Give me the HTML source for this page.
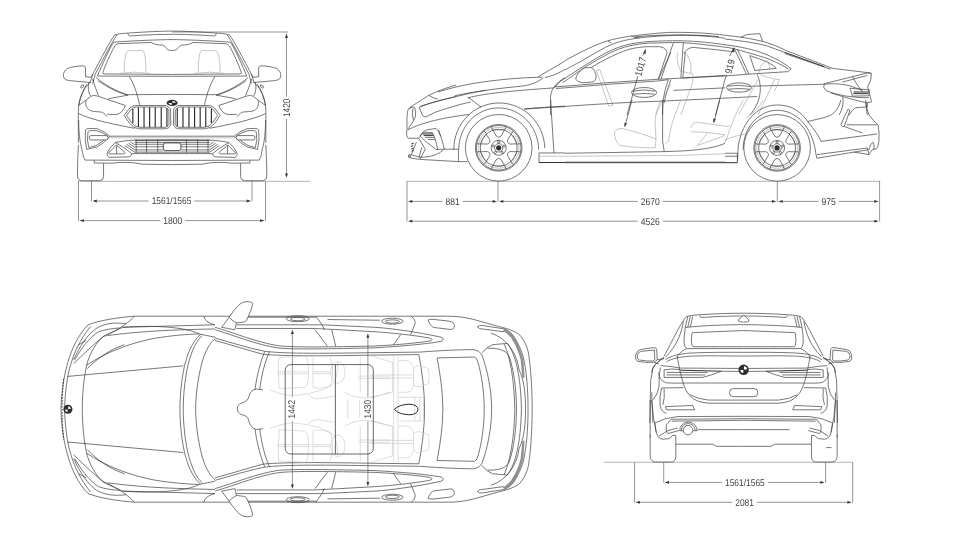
<!DOCTYPE html>
<html><head><meta charset="utf-8"><title>Dimensions</title>
<style>
html,body{margin:0;padding:0;background:#fff;}
body{width:967px;height:546px;overflow:hidden;font-family:"Liberation Sans",sans-serif;}
svg{display:block;}
.l{fill:none;stroke:#363636;stroke-width:.68;stroke-linecap:butt;stroke-linejoin:round;vector-effect:non-scaling-stroke;}
.f{fill:none;stroke:#8a8a8a;stroke-width:.5;stroke-linecap:butt;stroke-linejoin:round;vector-effect:non-scaling-stroke;}
.b{fill:none;stroke:#222;stroke-width:.95;stroke-linecap:butt;stroke-linejoin:round;vector-effect:non-scaling-stroke;}
.w{fill:#fff;stroke:#363636;stroke-width:.68;stroke-linejoin:round;vector-effect:non-scaling-stroke;}
.k{fill:#2a2a2a;stroke:none;}
.s{fill:none;stroke:#2a2a2a;stroke-width:1.15;vector-effect:non-scaling-stroke;}
.m{fill:none;stroke:#3a3a3a;stroke-width:.78;stroke-linejoin:round;vector-effect:non-scaling-stroke;}
.ff{fill:none;stroke:#c6c6c6;stroke-width:.6;stroke-linejoin:round;vector-effect:non-scaling-stroke;}
.g{fill:none;stroke:#777;stroke-width:.55;}
.d{fill:none;stroke:#777;stroke-width:.8;vector-effect:non-scaling-stroke;}
.a{fill:#333;stroke:none;}
text{font-family:"Liberation Sans",sans-serif;font-size:9.8px;fill:#3c3c3c;text-anchor:middle;text-rendering:geometricPrecision;}
</style></head><body>
<svg width="967" height="546" viewBox="0 0 967 546">
<g opacity=".99">
<g id="dims">
<path class="g" d="M78,181.3 H310.5"/>
<path class="d" d="M172,32 H288 M78.5,181 V221 M265.5,181 V221 M91.5,181 V201.2 M252,181 V201.2"/>
<path class="d" d="M94.5,201 H148.7 M194.3,201 H249"/>
<path class="a" d="M92.5,201 l4.3,-1.4 v2.8 z"/>
<path class="a" d="M251,201 l-4.3,-1.4 v2.8 z"/>
<text x="171.5" y="204" textLength="39.6" lengthAdjust="spacingAndGlyphs">1561/1565</text>
<path class="d" d="M81.5,220.6 H160.3 M185.3,220.6 H262.5"/>
<path class="a" d="M79.5,220.6 l4.3,-1.4 v2.8 z"/>
<path class="a" d="M264.5,220.6 l-4.3,-1.4 v2.8 z"/>
<text x="172.8" y="224" textLength="19" lengthAdjust="spacingAndGlyphs">1800</text>
<path class="d" d="M286.5,35.6 V96.7 M286.5,118.9 V175.8"/>
<path class="a" d="M286.5,33.6 l-1.45,4.4 h2.9 z"/>
<path class="a" d="M286.5,177.8 l-1.45,-4.4 h2.9 z"/>
<text transform="translate(289.9,107.8) rotate(-90)" x="0" y="0" textLength="18.6" lengthAdjust="spacingAndGlyphs">1420</text>
<path class="g" d="M407,181.3 H880"/>
<path class="d" d="M407,181 V221.5 M879.6,181 V221.5 M498,181 V201.7 M777.3,181 V201.7"/>
<path class="d" d="M410,201.4 H442.5 M462.7,201.4 H495"/>
<path class="a" d="M408,201.4 l4.3,-1.4 v2.8 z"/>
<path class="a" d="M497,201.4 l-4.3,-1.4 v2.8 z"/>
<text x="452.6" y="205" textLength="14.2" lengthAdjust="spacingAndGlyphs">881</text>
<path class="d" d="M501,201.4 H637.8 M662.8,201.4 H774.3"/>
<path class="a" d="M499,201.4 l4.3,-1.4 v2.8 z"/>
<path class="a" d="M776.3,201.4 l-4.3,-1.4 v2.8 z"/>
<text x="650.3" y="205" textLength="19" lengthAdjust="spacingAndGlyphs">2670</text>
<path class="d" d="M780.3,201.4 H818.5 M838.9,201.4 H876.6"/>
<path class="a" d="M778.3,201.4 l4.3,-1.4 v2.8 z"/>
<path class="a" d="M878.6,201.4 l-4.3,-1.4 v2.8 z"/>
<text x="828.7" y="205" textLength="14.4" lengthAdjust="spacingAndGlyphs">975</text>
<path class="d" d="M410,221.2 H637.8 M662.8,221.2 H876.6"/>
<path class="a" d="M408,221.2 l4.3,-1.4 v2.8 z"/>
<path class="a" d="M878.6,221.2 l-4.3,-1.4 v2.8 z"/>
<text x="650.3" y="225" textLength="19" lengthAdjust="spacingAndGlyphs">4526</text>
<path class="g" d="M604,462.3 H853"/>
<path class="d" d="M634.6,462.3 V502.6 M852.7,462.3 V502.6 M663.7,462.3 V482.7 M825.6,462.3 V482.7"/>
<path class="d" d="M666.7,482.4 H722 M767.8,482.4 H822.6"/>
<path class="a" d="M664.7,482.4 l4.3,-1.4 v2.8 z"/>
<path class="a" d="M824.6,482.4 l-4.3,-1.4 v2.8 z"/>
<text x="744.9" y="486" textLength="39.8" lengthAdjust="spacingAndGlyphs">1561/1565</text>
<path class="d" d="M637.6,502.3 H732.25 M756.95,502.3 H849.7"/>
<path class="a" d="M635.6,502.3 l4.3,-1.4 v2.8 z"/>
<path class="a" d="M851.7,502.3 l-4.3,-1.4 v2.8 z"/>
<text x="744.6" y="506" textLength="18.7" lengthAdjust="spacingAndGlyphs">2081</text>
<path class="d" d="M292.4,331.7 V397.15 M292.4,421.25 V486.9"/>
<path class="a" d="M292.4,329.7 l-1.45,4.4 h2.9 z"/>
<path class="a" d="M292.4,488.9 l-1.45,-4.4 h2.9 z"/>
<text transform="translate(295.2,409.2) rotate(-90)" x="0" y="0" textLength="18.5" lengthAdjust="spacingAndGlyphs">1442</text>
<path class="d" d="M367.9,335.3 V397.15 M367.9,421.25 V484.3"/>
<path class="a" d="M367.9,333.3 l-1.45,4.4 h2.9 z"/>
<path class="a" d="M367.9,486.3 l-1.45,-4.4 h2.9 z"/>
<text transform="translate(370.8,409.2) rotate(-90)" x="0" y="0" textLength="18.5" lengthAdjust="spacingAndGlyphs">1430</text>
</g>
<g id="front">
<g transform="translate(60,25) scale(0.124486,0.124533)">
<path class="l" d="M440,80 C470,70 520,66 560,64 C700,54 820,49 900,49"/>
<path class="l" d="M545,68 Q548,86 558,88 C700,78 820,75 900,75"/>
<path class="l" d="M440,80 C400,130 330,270 250,420"/>
<path class="l" d="M458,80 C420,130 350,270 280,400"/>
<path class="l" d="M900,117 C800,118 600,125 432,138 C400,180 340,320 300,410 L900,412"/>
<path class="l" d="M900,397 L360,393 Q338,392 345,380 C360,330 420,200 440,168 Q450,152 475,150 L730,140 C755,150 770,160 800,160 C835,160 842,170 852,185 C868,205 890,205 900,205"/>
<path class="f" d="M515,378 C515,300 525,220 545,207 L665,205 C685,220 690,300 690,378 M480,388 Q600,370 720,388"/>
<path class="l" d="M250,420 L205,415 L205,345 Q203,328 185,328 C150,328 90,335 60,350 C35,365 22,390 30,420 C35,440 60,445 90,448 L245,462"/>
<path class="l" d="M262,395 L242,465 M282,400 L262,470"/>
</g>
<g transform="translate(344.2,0) scale(-1,1)"><g transform="translate(60,25) scale(0.124486,0.124533)">
<path class="l" d="M440,80 C470,70 520,66 560,64 C700,54 820,49 900,49"/>
<path class="l" d="M545,68 Q548,86 558,88 C700,78 820,75 900,75"/>
<path class="l" d="M440,80 C400,130 330,270 250,420"/>
<path class="l" d="M458,80 C420,130 350,270 280,400"/>
<path class="l" d="M900,117 C800,118 600,125 432,138 C400,180 340,320 300,410 L900,412"/>
<path class="l" d="M900,397 L360,393 Q338,392 345,380 C360,330 420,200 440,168 Q450,152 475,150 L730,140 C755,150 770,160 800,160 C835,160 842,170 852,185 C868,205 890,205 900,205"/>
<path class="f" d="M515,378 C515,300 525,220 545,207 L665,205 C685,220 690,300 690,378 M480,388 Q600,370 720,388"/>
<path class="l" d="M250,420 L205,415 L205,345 Q203,328 185,328 C150,328 90,335 60,350 C35,365 22,390 30,420 C35,440 60,445 90,448 L245,462"/>
<path class="l" d="M262,395 L242,465 M282,400 L262,470"/>
</g>
</g>
<g transform="translate(60,75) scale(0.124486,0.124533)">
<path class="l" d="M555,10 C600,80 625,170 640,240"/>
<path class="l" d="M290,20 C360,80 450,130 540,158 L900,156"/>
<path class="l" d="M305,45 C380,100 470,142 548,163"/>
<path class="l" d="M262,30 C275,80 295,130 310,165"/>
<path class="l" d="M245,55 C200,100 165,150 150,245 C146,290 147,400 148,545"/>
<path class="l" d="M215,75 C185,120 162,180 150,245"/>
<path class="l" d="M165,100 Q168,76 190,80 Q196,95 176,106 Z"/>
<path class="l" d="M232,60 C222,100 228,140 245,168"/>
<path class="l" d="M150,245 L255,168 Q280,160 305,170 L525,245 Q520,270 490,300 Q470,318 440,318 L380,315"/>
<path class="l" d="M210,205 C200,240 215,270 240,285 C280,300 330,290 350,305 L380,335"/>
<path class="l" d="M390,190 L545,162"/>
<path class="l" d="M150,310 C250,360 450,400 600,428"/>
<path class="l" d="M515,325 L560,265 Q580,245 610,245 L855,245 L888,272 L890,400 Q880,430 850,432 L630,432 Q590,425 560,390 Z"/>
<path class="l" d="M535,325 L575,272 Q590,258 615,257 L845,257 L874,280 L876,395 Q866,418 845,420 L635,420 Q600,415 575,382 Z"/>
<path class="s" d="M585,272 V385 M630,260 V418 M675,258 V420 M720,258 V420 M765,258 V420 M813,258 V420 M859,266 V412"/>
</g>
<g transform="translate(344.2,0) scale(-1,1)"><g transform="translate(60,75) scale(0.124486,0.124533)">
<path class="l" d="M555,10 C600,80 625,170 640,240"/>
<path class="l" d="M290,20 C360,80 450,130 540,158 L900,156"/>
<path class="l" d="M305,45 C380,100 470,142 548,163"/>
<path class="l" d="M262,30 C275,80 295,130 310,165"/>
<path class="l" d="M245,55 C200,100 165,150 150,245 C146,290 147,400 148,545"/>
<path class="l" d="M215,75 C185,120 162,180 150,245"/>
<path class="l" d="M165,100 Q168,76 190,80 Q196,95 176,106 Z"/>
<path class="l" d="M232,60 C222,100 228,140 245,168"/>
<path class="l" d="M150,245 L255,168 Q280,160 305,170 L525,245 Q520,270 490,300 Q470,318 440,318 L380,315"/>
<path class="l" d="M210,205 C200,240 215,270 240,285 C280,300 330,290 350,305 L380,335"/>
<path class="l" d="M390,190 L545,162"/>
<path class="l" d="M150,310 C250,360 450,400 600,428"/>
<path class="l" d="M515,325 L560,265 Q580,245 610,245 L855,245 L888,272 L890,400 Q880,430 850,432 L630,432 Q590,425 560,390 Z"/>
<path class="l" d="M535,325 L575,272 Q590,258 615,257 L845,257 L874,280 L876,395 Q866,418 845,420 L635,420 Q600,415 575,382 Z"/>
<path class="s" d="M585,272 V385 M630,260 V418 M675,258 V420 M720,258 V420 M765,258 V420 M813,258 V420 M859,266 V412"/>
</g>
</g>
<g transform="translate(60,120) scale(0.124486,0.124533)">
<path class="l" d="M205,80 Q210,68 240,68 L300,70 Q360,90 400,130 Q350,190 300,215 L215,237 Q195,160 205,80"/>
<path class="l" d="M225,95 Q228,85 245,85 L290,85 Q350,100 385,130 Q340,180 290,205 L232,222 Q212,160 225,95"/>
<rect class="w" x="235" y="125" width="150" height="35" rx="14"/>
<path class="l" d="M400,130 L900,130"/>
<path class="f" d="M395,143 L900,143"/>
<path class="l" d="M445,180 Q520,165 600,160 L900,158"/>
<path class="l" d="M378,268 Q400,215 445,182 Q520,220 575,270 Q575,290 555,296 L395,300 Q375,290 378,268"/>
<path class="l" d="M390,265 L452,200 L525,262 Q520,272 505,272 L395,272 Z M455,205 V270"/>
<path class="m" d="M600,165 H900 M600,258 H900"/>
<path class="l" d="M600,180 H900 M600,195 H830 M600,215 H830 M600,240 H830 M575,270 H900"/>
<path class="l" d="M612,158 V262 M695,158 V262 M785,158 V262"/>
<path class="l" d="M520,205 L600,258 M535,195 L600,240 M550,185 L600,220 M565,175 L600,200"/>
<rect class="w" x="830" y="185" width="140" height="60" rx="16"/>
<path class="l" d="M150,0 C150,100 160,180 175,230 Q185,300 200,322 L900,325"/>
<path class="l" d="M275,325 V345 L420,347 C500,335 600,340 660,355 L900,358"/>
<path class="l" d="M148,200 C142,300 140,400 140,450 Q142,488 180,488 L320,488 Q350,485 350,455 L350,347"/>
</g>
<g transform="translate(344.2,0) scale(-1,1)"><g transform="translate(60,120) scale(0.124486,0.124533)">
<path class="l" d="M205,80 Q210,68 240,68 L300,70 Q360,90 400,130 Q350,190 300,215 L215,237 Q195,160 205,80"/>
<path class="l" d="M225,95 Q228,85 245,85 L290,85 Q350,100 385,130 Q340,180 290,205 L232,222 Q212,160 225,95"/>
<rect class="w" x="235" y="125" width="150" height="35" rx="14"/>
<path class="l" d="M400,130 L900,130"/>
<path class="f" d="M395,143 L900,143"/>
<path class="l" d="M445,180 Q520,165 600,160 L900,158"/>
<path class="l" d="M378,268 Q400,215 445,182 Q520,220 575,270 Q575,290 555,296 L395,300 Q375,290 378,268"/>
<path class="l" d="M390,265 L452,200 L525,262 Q520,272 505,272 L395,272 Z M455,205 V270"/>
<path class="m" d="M600,165 H900 M600,258 H900"/>
<path class="l" d="M600,180 H900 M600,195 H830 M600,215 H830 M600,240 H830 M575,270 H900"/>
<path class="l" d="M612,158 V262 M695,158 V262 M785,158 V262"/>
<path class="l" d="M520,205 L600,258 M535,195 L600,240 M550,185 L600,220 M565,175 L600,200"/>
<rect class="w" x="830" y="185" width="140" height="60" rx="16"/>
<path class="l" d="M150,0 C150,100 160,180 175,230 Q185,300 200,322 L900,325"/>
<path class="l" d="M275,325 V345 L420,347 C500,335 600,340 660,355 L900,358"/>
<path class="l" d="M148,200 C142,300 140,400 140,450 Q142,488 180,488 L320,488 Q350,485 350,455 L350,347"/>
</g>
</g>
<g transform="translate(172.1,102.9) scale(5.5,3.1)"><circle r="1" fill="#2b2b2b"/><path d="M.06,-.06 L.06,-.64 A.6,.6 0 0 1 .64,-.06 Z M-.06,.06 L-.06,.64 A.6,.6 0 0 1 -.64,.06 Z" fill="#fff"/></g>
</g>
<g id="side">
<g transform="translate(405,25) scale(0.16546,0.165442)">
<path class="l" d="M830,315 C700,318 550,330 420,352 C330,368 250,388 200,405"/>
<path class="l" d="M805,312 L967,218"/>
<path class="l" d="M845,318 C900,305 930,290 967,268"/>
<path class="l" d="M300,428 C450,395 600,380 700,370 C770,362 800,345 835,320"/>
<path class="l" d="M380,440 C500,410 650,398 900,380"/>
<path class="l" d="M967,318 C920,345 885,380 880,430 L880,544"/>
<path class="l" d="M720,508 C800,500 880,495 967,490"/>
<path class="l" d="M903,380 L937,342"/>
</g>
<g transform="translate(403,95) scale(0.0827301,0.082713)">
<path class="l" d="M50,425 C45,330 48,250 55,200 Q60,170 80,155 L130,120 L310,5 C400,-40 500,-80 640,-120"/>
<path class="l" d="M70,165 Q110,135 140,150 Q160,200 150,260 Q120,340 60,410"/>
<path class="l" d="M120,165 Q105,230 125,300"/>
<path class="l" d="M195,150 L235,245 Q250,270 285,262 L380,212 C500,170 650,120 820,85"/>
<path class="l" d="M195,150 C300,105 450,60 690,8 C800,-20 900,-40 1000,-55"/>
<path class="l" d="M210,135 C350,90 500,50 640,20"/>
<path class="l" d="M60,420 C200,350 400,285 800,235"/>
<path class="l" d="M310,5 Q360,35 420,50"/>
<path class="l" d="M780,25 Q880,90 945,150"/>
<path class="l" d="M205,495 Q230,440 290,420 L400,405 Q430,420 455,500"/>
</g>
<g transform="translate(403,130) scale(0.0827301,0.082713)">
<path class="l" d="M430,0 C460,80 480,150 500,232"/>
<path class="l" d="M355,30 C385,80 400,150 420,235"/>
<path class="l" d="M210,75 Q230,35 260,28 L355,30"/>
<path class="b" d="M240,48 H360 M250,68 H370"/>
<path class="l" d="M270,90 H380 M300,115 H390"/>
<path class="l" d="M210,75 L270,135 L400,235 L500,232 H670"/>
<path class="l" d="M45,0 L45,70 Q50,95 70,100 L190,100 L210,75"/>
<path class="l" d="M190,100 L270,235 L205,350 M160,150 L100,300 M225,210 L195,330"/>
<path class="b" d="M100,170 L130,160 M95,200 L125,190 M100,230 L130,220 M105,255 L130,248"/>
<path class="l" d="M65,310 Q80,295 100,300 L205,330 C350,330 430,290 490,240"/>
<path class="l" d="M65,310 Q70,335 100,340 L200,355 L670,382 V235 M670,382 H780"/>
<ellipse class="l" cx="78" cy="318" rx="12" ry="16"/>
</g>
<g transform="translate(405,100) scale(0.16546,0.165442)">
<path class="l" d="M295,300 C295,140 420,18 568,18 C720,18 840,140 845,290"/>
<path class="l" d="M325,300 C325,160 430,48 566,48 C700,48 805,160 808,300"/>
<path class="l" d="M810,320 H967 M810,320 V380"/>
<path class="f" d="M810,340 H967"/>
<path class="b" d="M810,378 H967"/>
<path class="l" d="M880,0 L900,320"/>
<path class="l" d="M720,55 C800,48 880,45 967,40"/>
</g>
<g transform="translate(565,25) scale(0.16546,0.165442)">
<path class="l" d="M0,215 C100,160 180,120 260,95 C330,75 420,60 620,45 C760,42 880,50 967,62"/>
<path class="l" d="M0,272 C60,238 90,224 120,206 C180,170 230,140 286,116 C330,98 380,88 421,82 C500,70 600,64 695,62 C800,62 900,70 967,80"/>
<path class="l" d="M400,66 Q420,80 450,78 M260,95 L280,110"/>
<path class="m" d="M420,72 C560,58 760,55 930,70"/>
<path class="l" d="M-30,342 L0,322 C40,296 80,270 120,244 C170,212 220,182 271,157 C310,138 350,125 391,116 C430,108 460,104 496,101 C560,96 640,95 695,95 C800,98 900,108 967,120"/>
<path class="l" d="M-15,349 C30,320 80,282 120,255 C170,225 220,195 271,169 C310,150 350,135 391,126 C430,118 460,113 496,110 L650,106 L700,106 C800,112 900,125 996,138"/>
<path class="l" d="M158,257 C200,232 235,212 271,195 C310,176 350,158 391,146 C430,137 460,133 496,131 L572,131 Q600,135 609,150 Q617,160 617,169 L564,327"/>
<path class="w" d="M64,327 Q70,300 83,289 Q100,265 120,259 L158,257 Q175,262 180,282 Q190,300 188,319 Q185,338 173,342 Q140,350 105,349 Q75,345 64,327 Z"/>
<path class="l" d="M655,108 L580,328 M640,165 L565,328"/>
<path class="l" d="M715,108 L700,320 M727,165 L712,320"/>
<path class="l" d="M721,175 Q725,145 770,135 L921,150 L1026,163"/>
<path class="l" d="M712,320 L967,305"/>
<path class="l" d="M-62,374 L0,370 L240,350 L565,328 L967,308"/>
<path class="l" d="M-55,384 L0,380 L240,360 L565,338 L625,330"/>
<path class="l" d="M625,330 C600,400 590,450 590,544"/>
<path class="l" d="M640,330 C615,400 605,440 600,470"/>
<ellipse class="l" cx="478" cy="408" rx="76" ry="30"/>
<path class="l" d="M410,400 Q478,385 545,400 M415,418 Q478,410 540,418"/>
<path class="l" d="M0,492 C200,478 400,465 590,460 L967,442"/>
<path class="l" d="M655,395 L967,380"/>
<path class="f" d="M190,275 L210,270 L290,485 L265,490 Z"/>
<path class="f" d="M680,165 Q670,220 700,280 L770,295 Q780,330 760,380 L700,544"/>
<path class="f" d="M735,175 Q770,230 760,290"/>
<path class="f" d="M640,360 Q600,420 550,544"/>
<path class="l" d="M470,185 L487,147 M440,310 L375,544"/>
<path class="l" d="M967,330 L910,544"/>
</g>
<g transform="translate(565,100) scale(0.16546,0.165442)">
<path class="l" d="M0,322 L600,312 C750,308 880,300 967,262"/>
<path class="f" d="M0,340 L700,335 L967,325"/>
<path class="f" d="M0,372 H967"/>
<path class="b" d="M0,379 H967"/>
<path class="l" d="M590,0 L590,250 L600,312"/>
<path class="f" d="M300,190 Q310,172 350,172 Q460,200 550,235 L545,290 Q430,290 330,275 Q295,240 300,190 Z"/>
<path class="f" d="M580,0 Q540,80 545,150 L550,235 M700,0 Q650,120 640,170 L625,250 L610,262"/>
<path class="f" d="M760,170 Q770,135 800,135 L967,158 M760,192 L860,196 L967,210 M860,200 L800,275 L967,215"/>
<path class="l" d="M405,0 L362,160"/>
<path class="l" d="M935,0 L900,135"/>
</g>
<g transform="translate(725,25) scale(0.16546,0.165442)">
<path class="l" d="M0,62 C80,70 160,82 230,100 C300,120 340,140 370,155 L650,262 L880,290"/>
<path class="l" d="M95,75 L130,58 L210,52 L228,98"/>
<path class="l" d="M0,85 C100,95 200,112 250,125 L360,165"/>
<path class="b" d="M360,165 L600,252"/>
<path class="l" d="M360,172 L640,268"/>
<path class="l" d="M0,120 C80,128 150,145 200,160 C260,180 340,215 400,265 L380,282 L130,298 L0,308"/>
<path class="l" d="M0,442 L195,432"/>
<path class="l" d="M29,138 C120,160 200,185 255,202 C310,225 350,245 383,266"/>
<path class="l" d="M150,185 L180,275 L310,262 Q280,225 150,185 Z"/>
<path class="l" d="M55,140 L130,298 M75,148 L145,297"/>
<ellipse class="l" cx="85" cy="378" rx="76" ry="28"/>
<path class="l" d="M15,370 Q85,358 155,372 M20,388 Q85,380 150,388"/>
<path class="l" d="M160,370 L600,358"/>
<path class="l" d="M600,355 L860,290 L885,292 Q888,330 862,375 L880,440 L885,465 L860,470"/>
<path class="l" d="M710,345 L860,305"/>
<path class="l" d="M600,355 Q588,378 612,398 Q720,440 870,440"/>
<path class="l" d="M600,358 C680,350 740,360 790,380 L830,395"/>
<path class="l" d="M755,382 L770,430 L870,428 L872,392 Z"/>
<path class="b" d="M775,415 H865 M778,405 H868"/>
<path class="l" d="M770,310 C790,350 810,380 830,400"/>
<path class="l" d="M640,410 C700,430 800,460 860,470"/>
<path class="l" d="M195,300 C230,380 215,470 150,544"/>
<path class="f" d="M215,300 Q290,330 330,330 L300,400 M205,290 Q210,240 250,215 Q270,230 270,270"/>
<path class="f" d="M300,330 L200,544 M200,330 L80,544"/>
<path class="l" d="M690,544 Q720,490 712,435"/>
<path class="l" d="M750,544 Q770,510 790,500 L860,495 L862,470"/>
<path class="l" d="M850,470 L860,544"/>
<path class="l" d="M28,188 L55,137 M0,330 L10,300"/>
</g>
<g transform="translate(725,100) scale(0.16546,0.165442)">
<path class="l" d="M75,370 C80,330 75,280 88,240 C120,110 210,30 315,30 C400,30 460,70 500,130 C540,180 570,220 580,250"/>
<path class="l" d="M110,300 C110,160 210,62 315,62 C430,62 530,160 550,330 L555,352"/>
<path class="l" d="M500,130 C560,115 620,105 650,85 Q690,50 700,0"/>
<path class="l" d="M850,0 Q855,60 870,90 Q900,130 925,150 Q935,200 930,250 Q925,290 915,295 L890,300 L870,330 L780,315"/>
<path class="l" d="M580,250 L920,205"/>
<path class="l" d="M555,330 L860,290 M555,352 L870,300"/>
<path class="l" d="M870,300 Q880,260 895,255 M860,290 L870,330 M895,255 Q905,270 900,298"/>
<path class="l" d="M745,55 Q720,100 700,150 Q710,165 720,160 Q740,110 755,62 Z"/>
<path class="l" d="M720,160 L830,200 M735,150 L920,150"/>
<path class="l" d="M0,322 L75,322 M0,340 H75 M75,322 V378"/>
<path class="b" d="M0,379 H75"/>
<path class="f" d="M0,160 L30,155 M0,240 L60,220 L150,200 M150,200 V225"/>
<path class="f" d="M110,0 Q60,80 0,260 M230,0 Q200,60 130,110"/>
</g>
<g transform="translate(498.7,147.8)">
<circle class="w" r="33.3"/>
<circle class="l" r="23.3"/><circle class="l" r="22.3"/>
<circle class="l" r="18.4"/><circle class="f" r="20.4"/>
<circle class="w" r="7.5"/><circle class="l" r="4.2"/><circle class="k" r="2.6"/>
<path class="w" transform="rotate(0)" d="M-5.6,-17.6 Q0,-18.8 5.6,-17.6 L2.5,-11.8 Q0,-9.2 -2.5,-11.8 Z"/>
<path class="l" transform="rotate(0)" d="M-7.2,-21 L-6,-17.4 M7.2,-21 L6,-17.4"/>
<path class="w" transform="rotate(60)" d="M-5.6,-17.6 Q0,-18.8 5.6,-17.6 L2.5,-11.8 Q0,-9.2 -2.5,-11.8 Z"/>
<path class="l" transform="rotate(60)" d="M-7.2,-21 L-6,-17.4 M7.2,-21 L6,-17.4"/>
<path class="w" transform="rotate(120)" d="M-5.6,-17.6 Q0,-18.8 5.6,-17.6 L2.5,-11.8 Q0,-9.2 -2.5,-11.8 Z"/>
<path class="l" transform="rotate(120)" d="M-7.2,-21 L-6,-17.4 M7.2,-21 L6,-17.4"/>
<path class="w" transform="rotate(180)" d="M-5.6,-17.6 Q0,-18.8 5.6,-17.6 L2.5,-11.8 Q0,-9.2 -2.5,-11.8 Z"/>
<path class="l" transform="rotate(180)" d="M-7.2,-21 L-6,-17.4 M7.2,-21 L6,-17.4"/>
<path class="w" transform="rotate(240)" d="M-5.6,-17.6 Q0,-18.8 5.6,-17.6 L2.5,-11.8 Q0,-9.2 -2.5,-11.8 Z"/>
<path class="l" transform="rotate(240)" d="M-7.2,-21 L-6,-17.4 M7.2,-21 L6,-17.4"/>
<path class="w" transform="rotate(300)" d="M-5.6,-17.6 Q0,-18.8 5.6,-17.6 L2.5,-11.8 Q0,-9.2 -2.5,-11.8 Z"/>
<path class="l" transform="rotate(300)" d="M-7.2,-21 L-6,-17.4 M7.2,-21 L6,-17.4"/>
<circle class="l" transform="rotate(0)" cx="0" cy="-5.7" r="1.1"/>
<circle class="l" transform="rotate(72)" cx="0" cy="-5.7" r="1.1"/>
<circle class="l" transform="rotate(144)" cx="0" cy="-5.7" r="1.1"/>
<circle class="l" transform="rotate(216)" cx="0" cy="-5.7" r="1.1"/>
<circle class="l" transform="rotate(288)" cx="0" cy="-5.7" r="1.1"/>
</g>
<g transform="translate(777.1,147.9)">
<circle class="w" r="33.3"/>
<circle class="l" r="23.3"/><circle class="l" r="22.3"/>
<circle class="l" r="18.4"/><circle class="f" r="20.4"/>
<circle class="w" r="7.5"/><circle class="l" r="4.2"/><circle class="k" r="2.6"/>
<path class="w" transform="rotate(0)" d="M-5.6,-17.6 Q0,-18.8 5.6,-17.6 L2.5,-11.8 Q0,-9.2 -2.5,-11.8 Z"/>
<path class="l" transform="rotate(0)" d="M-7.2,-21 L-6,-17.4 M7.2,-21 L6,-17.4"/>
<path class="w" transform="rotate(60)" d="M-5.6,-17.6 Q0,-18.8 5.6,-17.6 L2.5,-11.8 Q0,-9.2 -2.5,-11.8 Z"/>
<path class="l" transform="rotate(60)" d="M-7.2,-21 L-6,-17.4 M7.2,-21 L6,-17.4"/>
<path class="w" transform="rotate(120)" d="M-5.6,-17.6 Q0,-18.8 5.6,-17.6 L2.5,-11.8 Q0,-9.2 -2.5,-11.8 Z"/>
<path class="l" transform="rotate(120)" d="M-7.2,-21 L-6,-17.4 M7.2,-21 L6,-17.4"/>
<path class="w" transform="rotate(180)" d="M-5.6,-17.6 Q0,-18.8 5.6,-17.6 L2.5,-11.8 Q0,-9.2 -2.5,-11.8 Z"/>
<path class="l" transform="rotate(180)" d="M-7.2,-21 L-6,-17.4 M7.2,-21 L6,-17.4"/>
<path class="w" transform="rotate(240)" d="M-5.6,-17.6 Q0,-18.8 5.6,-17.6 L2.5,-11.8 Q0,-9.2 -2.5,-11.8 Z"/>
<path class="l" transform="rotate(240)" d="M-7.2,-21 L-6,-17.4 M7.2,-21 L6,-17.4"/>
<path class="w" transform="rotate(300)" d="M-5.6,-17.6 Q0,-18.8 5.6,-17.6 L2.5,-11.8 Q0,-9.2 -2.5,-11.8 Z"/>
<path class="l" transform="rotate(300)" d="M-7.2,-21 L-6,-17.4 M7.2,-21 L6,-17.4"/>
<circle class="l" transform="rotate(0)" cx="0" cy="-5.7" r="1.1"/>
<circle class="l" transform="rotate(72)" cx="0" cy="-5.7" r="1.1"/>
<circle class="l" transform="rotate(144)" cx="0" cy="-5.7" r="1.1"/>
<circle class="l" transform="rotate(216)" cx="0" cy="-5.7" r="1.1"/>
<circle class="l" transform="rotate(288)" cx="0" cy="-5.7" r="1.1"/>
</g>
<text transform="translate(640.6,66.6) rotate(-75)" x="0" y="3.3" textLength="19" lengthAdjust="spacingAndGlyphs">1017</text>
<text transform="translate(730,66.5) rotate(-75)" x="0" y="3.3" textLength="14.3" lengthAdjust="spacingAndGlyphs">919</text>
<path class="a" transform="translate(645.579,49.32) rotate(105)" d="M0,0 l4.4,-1.35 v2.7 z"/>
<path class="a" transform="translate(624.566,127.298) rotate(-75)" d="M0,0 l4.4,-1.35 v2.7 z"/>
<path class="a" transform="translate(734.1,47.3347) rotate(105)" d="M0,0 l4.4,-1.35 v2.7 z"/>
<path class="a" transform="translate(713.418,123.162) rotate(-75)" d="M0,0 l4.4,-1.35 v2.7 z"/>
</g>
<g id="top">
<g transform="translate(55,300) scale(0.16546,0.165442)">
<path class="l" d="M36,660 C38,560 55,450 80,370 C100,300 140,210 200,150 C260,125 380,105 480,98 L967,98"/>
<path class="l" d="M58,660 C60,560 75,450 95,390 C115,320 150,240 215,160"/>
<path class="l" d="M165,660 C165,560 175,470 190,400 C205,330 250,250 300,215 C340,195 380,178 410,165 L967,150"/>
<path class="l" d="M75,462 L775,398"/>
<path class="l" d="M190,395 C300,320 450,260 600,232 C700,215 800,207 870,205"/>
<path class="l" d="M195,415 C260,350 330,300 420,270"/>
<path class="l" d="M480,98 C440,140 400,170 300,220"/>
<path class="l" d="M113,361 C150,280 200,200 260,165 C320,135 380,138 429,143"/>
<path class="l" d="M120,361 C160,290 210,225 263,192 C300,178 350,172 391,169"/>
<path class="l" d="M300,215 C260,245 200,300 113,384"/>
<path class="l" d="M143,271 L188,245"/>
<path class="l" d="M755,660 C755,560 770,440 790,370 C810,300 840,240 880,208"/>
<path class="l" d="M775,660 C775,560 790,440 810,370 C830,300 855,245 890,215"/>
<path class="l" d="M850,660 C850,560 870,430 900,340 C920,290 940,255 967,235"/>
<path class="l" d="M410,165 C600,150 800,165 870,205 L967,225"/>
<path class="l" d="M320,215 C500,190 700,180 967,175"/>
<path class="l" d="M900,98 Q905,135 967,150"/>
</g>
<g transform="translate(0,818.4) scale(1,-1)"><g transform="translate(55,300) scale(0.16546,0.165442)">
<path class="l" d="M36,660 C38,560 55,450 80,370 C100,300 140,210 200,150 C260,125 380,105 480,98 L967,98"/>
<path class="l" d="M58,660 C60,560 75,450 95,390 C115,320 150,240 215,160"/>
<path class="l" d="M165,660 C165,560 175,470 190,400 C205,330 250,250 300,215 C340,195 380,178 410,165 L967,150"/>
<path class="l" d="M75,462 L775,398"/>
<path class="l" d="M190,395 C300,320 450,260 600,232 C700,215 800,207 870,205"/>
<path class="l" d="M195,415 C260,350 330,300 420,270"/>
<path class="l" d="M480,98 C440,140 400,170 300,220"/>
<path class="l" d="M113,361 C150,280 200,200 260,165 C320,135 380,138 429,143"/>
<path class="l" d="M120,361 C160,290 210,225 263,192 C300,178 350,172 391,169"/>
<path class="l" d="M300,215 C260,245 200,300 113,384"/>
<path class="l" d="M143,271 L188,245"/>
<path class="l" d="M755,660 C755,560 770,440 790,370 C810,300 840,240 880,208"/>
<path class="l" d="M775,660 C775,560 790,440 810,370 C830,300 855,245 890,215"/>
<path class="l" d="M850,660 C850,560 870,430 900,340 C920,290 940,255 967,235"/>
<path class="l" d="M410,165 C600,150 800,165 870,205 L967,225"/>
<path class="l" d="M320,215 C500,190 700,180 967,175"/>
<path class="l" d="M900,98 Q905,135 967,150"/>
</g>
</g>
<g transform="translate(215,300) scale(0.16546,0.165442)">
<path class="l" d="M0,98 H967 M190,104 H610"/>
<path class="w" d="M40,165 L85,105 Q140,20 175,12 Q215,5 228,20 Q225,50 190,125 Q185,135 130,138 L120,180 Z"/>
<path class="l" d="M85,105 Q110,130 130,138"/>
<path class="l" d="M130,150 H650 L967,165 M130,172 H600 L720,178 L967,192"/>
<path class="l" d="M0,165 C120,200 250,255 380,276 C480,288 700,284 967,278"/>
<path class="l" d="M0,180 C120,215 250,270 380,290 C480,300 700,295 967,289"/>
<path class="l" d="M0,230 C100,258 200,290 300,310 C420,326 700,323 967,318"/>
<path class="l" d="M0,245 C100,272 200,304 290,328 C420,341 700,338 967,333"/>
<path class="l" d="M330,310 C290,400 265,520 262,660"/>
<path class="l" d="M300,312 C265,400 245,500 240,560"/>
<ellipse class="l" cx="500" cy="113" rx="70" ry="18"/><ellipse class="l" cx="500" cy="115" rx="45" ry="10"/>
<path class="l" d="M610,98 L650,155 L660,180 M605,180 L680,280 M705,180 L730,280"/>
<path class="l" d="M680,118 L967,122"/>
</g>
<g transform="translate(0,818.4) scale(1,-1)"><g transform="translate(215,300) scale(0.16546,0.165442)">
<path class="l" d="M0,98 H967 M190,104 H610"/>
<path class="w" d="M40,165 L85,105 Q140,20 175,12 Q215,5 228,20 Q225,50 190,125 Q185,135 130,138 L120,180 Z"/>
<path class="l" d="M85,105 Q110,130 130,138"/>
<path class="l" d="M130,150 H650 L967,165 M130,172 H600 L720,178 L967,192"/>
<path class="l" d="M0,165 C120,200 250,255 380,276 C480,288 700,284 967,278"/>
<path class="l" d="M0,180 C120,215 250,270 380,290 C480,300 700,295 967,289"/>
<path class="l" d="M0,230 C100,258 200,290 300,310 C420,326 700,323 967,318"/>
<path class="l" d="M0,245 C100,272 200,304 290,328 C420,341 700,338 967,333"/>
<path class="l" d="M330,310 C290,400 265,520 262,660"/>
<path class="l" d="M300,312 C265,400 245,500 240,560"/>
<ellipse class="l" cx="500" cy="113" rx="70" ry="18"/><ellipse class="l" cx="500" cy="115" rx="45" ry="10"/>
<path class="l" d="M610,98 L650,155 L660,180 M605,180 L680,280 M705,180 L730,280"/>
<path class="l" d="M680,118 L967,122"/>
</g>
</g>
<g transform="translate(375,300) scale(0.16546,0.165442)">
<path class="l" d="M0,98 H440 C520,98 580,112 633,128 L754,162 C800,172 850,190 874,211 C895,235 905,255 912,271 C925,300 930,330 931,346 C940,400 950,540 950,660"/>
<path class="l" d="M784,175 C830,195 870,260 895,340 C915,420 925,540 925,660"/>
<path class="l" d="M618,162 Q630,152 648,154 L784,175 L776,192 L633,173 Z"/>
<path d="M784,173 C810,185 825,200 836,211 C855,235 865,260 870,279 C885,320 893,345 897,361 L904,470 L891,470 L880,361 C872,330 862,305 854,286 C842,260 832,245 823,230 C807,210 790,198 776,188 Z" fill="#8f8f8f"/>
<path class="l" d="M780,265 C810,330 840,450 845,660"/>
<path class="l" d="M800,262 C850,330 880,450 885,660"/>
<path class="l" d="M700,200 C800,230 860,330 870,420 C900,480 910,560 910,660"/>
<ellipse class="l" cx="105" cy="128" rx="65" ry="18"/><ellipse class="l" cx="105" cy="130" rx="42" ry="10"/>
<path class="l" d="M320,122 Q330,115 350,117 L450,128 Q480,135 480,155 Q478,180 455,178 L355,166 Q340,165 320,122Z"/>
<path class="l" d="M0,165 C100,172 250,192 400,225 Q425,235 400,250 C300,268 150,280 0,289"/>
<path class="l" d="M0,192 C100,198 250,215 330,230 Q360,240 330,248 C250,260 150,270 0,278"/>
<path class="l" d="M0,122 L30,122"/>
<path class="l" d="M220,100 Q250,120 240,150 L215,210 M155,210 L110,272"/>
<path class="l" d="M375,350 L600,345 Q615,350 620,370 C645,450 660,560 660,660"/>
<path class="l" d="M375,350 C395,450 410,560 410,660"/>
<path class="l" d="M265,330 C285,430 300,560 300,660"/>
<path class="l" d="M0,333 L265,330"/>
<path class="l" d="M0,318 L270,315 C400,305 520,300 600,300 Q630,305 645,330 C680,420 705,550 705,660"/>
<path class="l" d="M645,320 Q680,280 710,270 L800,262"/>
<path class="l" d="M680,292 C740,290 790,300 810,340 C840,420 855,550 855,660"/>
</g>
<g transform="translate(0,818.4) scale(1,-1)"><g transform="translate(375,300) scale(0.16546,0.165442)">
<path class="l" d="M0,98 H440 C520,98 580,112 633,128 L754,162 C800,172 850,190 874,211 C895,235 905,255 912,271 C925,300 930,330 931,346 C940,400 950,540 950,660"/>
<path class="l" d="M784,175 C830,195 870,260 895,340 C915,420 925,540 925,660"/>
<path class="l" d="M618,162 Q630,152 648,154 L784,175 L776,192 L633,173 Z"/>
<path d="M784,173 C810,185 825,200 836,211 C855,235 865,260 870,279 C885,320 893,345 897,361 L904,470 L891,470 L880,361 C872,330 862,305 854,286 C842,260 832,245 823,230 C807,210 790,198 776,188 Z" fill="#8f8f8f"/>
<path class="l" d="M780,265 C810,330 840,450 845,660"/>
<path class="l" d="M800,262 C850,330 880,450 885,660"/>
<path class="l" d="M700,200 C800,230 860,330 870,420 C900,480 910,560 910,660"/>
<ellipse class="l" cx="105" cy="128" rx="65" ry="18"/><ellipse class="l" cx="105" cy="130" rx="42" ry="10"/>
<path class="l" d="M320,122 Q330,115 350,117 L450,128 Q480,135 480,155 Q478,180 455,178 L355,166 Q340,165 320,122Z"/>
<path class="l" d="M0,165 C100,172 250,192 400,225 Q425,235 400,250 C300,268 150,280 0,289"/>
<path class="l" d="M0,192 C100,198 250,215 330,230 Q360,240 330,248 C250,260 150,270 0,278"/>
<path class="l" d="M0,122 L30,122"/>
<path class="l" d="M220,100 Q250,120 240,150 L215,210 M155,210 L110,272"/>
<path class="l" d="M375,350 L600,345 Q615,350 620,370 C645,450 660,560 660,660"/>
<path class="l" d="M375,350 C395,450 410,560 410,660"/>
<path class="l" d="M265,330 C285,430 300,560 300,660"/>
<path class="l" d="M0,333 L265,330"/>
<path class="l" d="M0,318 L270,315 C400,305 520,300 600,300 Q630,305 645,330 C680,420 705,550 705,660"/>
<path class="l" d="M645,320 Q680,280 710,270 L800,262"/>
<path class="l" d="M680,292 C740,290 790,300 810,340 C840,420 855,550 855,660"/>
</g>
</g>
<g transform="translate(215,365) scale(0.16546,0.165442)">
<path class="w" d="M290,150 L250,145 Q215,150 205,190 Q200,220 160,230 Q135,240 135,265 Q135,290 160,300 Q200,305 205,340 Q215,380 250,390 L290,385"/>
</g>
<g transform="translate(270,350) scale(0.124486,0.124533)">
<path class="ff" d="M70,60 Q60,180 75,310 L280,300 Q310,290 310,180 Q305,70 290,50 Z M60,175 H315 M60,192 H315"/>
<path class="ff" d="M345,60 V300 Q400,320 480,290 Q510,250 500,120 Q490,80 480,60 M345,175 H490 M345,190 H490"/>
<path class="ff" d="M0,320 Q150,390 300,350 Q340,400 400,390 L520,370 M310,350 Q420,330 500,280 Q540,250 545,100"/>
<ellipse class="ff" cx="545" cy="180" rx="58" ry="88"/>
<path class="ff" d="M725,60 V340 M710,210 H964 M710,228 H964 M600,340 Q700,400 830,380 L964,340 M625,400 V476 M720,400 V476"/>
</g>
<g transform="translate(0,818.4) scale(1,-1)"><g transform="translate(270,350) scale(0.124486,0.124533)">
<path class="ff" d="M70,60 Q60,180 75,310 L280,300 Q310,290 310,180 Q305,70 290,50 Z M60,175 H315 M60,192 H315"/>
<path class="ff" d="M345,60 V300 Q400,320 480,290 Q510,250 500,120 Q490,80 480,60 M345,175 H490 M345,190 H490"/>
<path class="ff" d="M0,320 Q150,390 300,350 Q340,400 400,390 L520,370 M310,350 Q420,330 500,280 Q540,250 545,100"/>
<ellipse class="ff" cx="545" cy="180" rx="58" ry="88"/>
<path class="ff" d="M725,60 V340 M710,210 H964 M710,228 H964 M600,340 Q700,400 830,380 L964,340 M625,400 V476 M720,400 V476"/>
</g>
</g>
<g transform="translate(370,350) scale(0.124486,0.124533)">
<path class="ff" d="M0,45 L180,100 V340 L0,380 M190,50 V476 M225,50 V476"/>
<path class="ff" d="M230,85 H300 Q345,100 350,150 V280 Q345,330 300,340 H230"/>
<path class="ff" d="M350,150 Q360,125 400,125 L470,150 Q480,200 470,270 L400,295 Q360,295 350,280"/>
<path class="ff" d="M0,200 H350 M0,225 H350 M360,380 V476 M400,380 V476 M430,380 V476 M230,380 H430"/>
</g>
<g transform="translate(0,818.4) scale(1,-1)"><g transform="translate(370,350) scale(0.124486,0.124533)">
<path class="ff" d="M0,45 L180,100 V340 L0,380 M190,50 V476 M225,50 V476"/>
<path class="ff" d="M230,85 H300 Q345,100 350,150 V280 Q345,330 300,340 H230"/>
<path class="ff" d="M350,150 Q360,125 400,125 L470,150 Q480,200 470,270 L400,295 Q360,295 350,280"/>
<path class="ff" d="M0,200 H350 M0,225 H350 M360,380 V476 M400,380 V476 M430,380 V476 M230,380 H430"/>
</g>
</g>
<rect class="m" x="285.2" y="364.6" width="88.1" height="89.4" rx="5.5"/><path class="m" d="M335.4,364.6 V454"/>
<path class="b" style="stroke-dasharray:1.6 1.4" d="M63.6,379 Q60.6,409.2 63.6,439.5"/>
<g transform="translate(67.9,409.2) scale(4.5,4.5)"><circle r="1" fill="#2b2b2b"/><path d="M.06,-.06 L.06,-.64 A.6,.6 0 0 1 .64,-.06 Z M-.06,.06 L-.06,.64 A.6,.6 0 0 1 -.64,.06 Z" fill="#fff"/></g>
<path class="b" d="M394.3,409.4 Q399,404.4 410,404.2 Q417.9,405 417.9,409.4 Q417.9,414 410,414.8 Q399,414.6 394.3,409.4 Z"/>
</g>
<g id="rear">
<g transform="translate(628,305) scale(0.124486,0.124533)">
<path class="l" d="M470,92 Q520,80 580,78 C700,70 820,66 929,66"/>
<path class="l" d="M575,85 Q580,100 595,100 C700,92 820,88 929,88"/>
<path class="w" d="M929,82 L890,115 Q878,132 900,135 L929,137"/>
<path class="l" d="M470,92 C430,130 350,300 290,410"/>
<path class="l" d="M445,130 C430,220 400,320 300,420"/>
<path class="l" d="M480,92 L460,180 M500,92 L480,180 M520,92 L500,178"/>
<path class="l" d="M929,158 C800,158 600,165 460,180 Q450,250 450,300 Q455,340 470,350 L929,350"/>
<path class="l" d="M929,205 L520,222 Q510,225 513,232 Q505,280 513,322 Q518,335 530,335 L929,335"/>
<path class="l" d="M470,350 C430,370 400,400 395,420"/>
<path class="l" d="M300,440 C350,405 420,392 500,386 C650,378 800,380 929,380"/>
<path class="l" d="M310,455 C360,425 440,415 520,410 C650,405 800,410 929,410"/>
<path class="l" d="M235,440 L230,355 Q225,340 205,342 L100,358 Q70,365 62,400 Q55,440 75,452 Q140,465 210,460 Z"/>
<path class="l" d="M215,440 L212,362 L105,372 Q80,378 75,405 Q72,435 90,442 Q150,452 200,450 Z"/>
<path class="l" d="M235,440 L290,430 M210,460 L250,475"/>
<path class="l" d="M190,544 Q195,500 215,480 L290,420"/>
</g>
<g transform="translate(1487.3,0) scale(-1,1)"><g transform="translate(628,305) scale(0.124486,0.124533)">
<path class="l" d="M470,92 Q520,80 580,78 C700,70 820,66 929,66"/>
<path class="l" d="M575,85 Q580,100 595,100 C700,92 820,88 929,88"/>
<path class="w" d="M929,82 L890,115 Q878,132 900,135 L929,137"/>
<path class="l" d="M470,92 C430,130 350,300 290,410"/>
<path class="l" d="M445,130 C430,220 400,320 300,420"/>
<path class="l" d="M480,92 L460,180 M500,92 L480,180 M520,92 L500,178"/>
<path class="l" d="M929,158 C800,158 600,165 460,180 Q450,250 450,300 Q455,340 470,350 L929,350"/>
<path class="l" d="M929,205 L520,222 Q510,225 513,232 Q505,280 513,322 Q518,335 530,335 L929,335"/>
<path class="l" d="M470,350 C430,370 400,400 395,420"/>
<path class="l" d="M300,440 C350,405 420,392 500,386 C650,378 800,380 929,380"/>
<path class="l" d="M310,455 C360,425 440,415 520,410 C650,405 800,410 929,410"/>
<path class="l" d="M235,440 L230,355 Q225,340 205,342 L100,358 Q70,365 62,400 Q55,440 75,452 Q140,465 210,460 Z"/>
<path class="l" d="M215,440 L212,362 L105,372 Q80,378 75,405 Q72,435 90,442 Q150,452 200,450 Z"/>
<path class="l" d="M235,440 L290,430 M210,460 L250,475"/>
<path class="l" d="M190,544 Q195,500 215,480 L290,420"/>
</g>
</g>
<g transform="translate(628,355) scale(0.124486,0.124533)">
<path class="l" d="M290,120 L290,180 L600,180 Q680,160 750,130"/>
<path class="l" d="M260,85 Q350,90 420,105 L890,108"/>
<path class="b" d="M420,122 L745,130"/>
<path class="l" d="M745,130 L890,132"/>
<path class="l" d="M290,120 Q350,105 420,118"/>
<path class="l" d="M310,140 H640 M310,160 H620"/>
<path class="l" d="M395,10 C410,100 430,200 460,270 Q490,340 560,370 Q600,385 650,387 L929,387"/>
<path class="l" d="M500,320 Q560,355 650,362 L929,362"/>
<path class="l" d="M245,140 Q250,200 300,222 Q350,228 450,225 L929,225"/>
<path class="l" d="M200,110 Q220,60 290,20"/>
<path class="l" d="M200,110 Q175,200 180,300 L175,545"/>
<path class="l" d="M200,360 Q240,320 250,250 Q245,180 260,100"/>
<path class="l" d="M190,300 L200,545"/>
<path class="l" d="M300,415 L520,405 L535,440 L310,440 Z"/>
<path class="l" d="M270,265 L445,262 M270,265 Q250,330 258,410 Q270,460 310,468"/>
<path class="l" d="M290,270 Q297,350 280,400"/>
</g>
<g transform="translate(1487.3,0) scale(-1,1)"><g transform="translate(628,355) scale(0.124486,0.124533)">
<path class="l" d="M290,120 L290,180 L600,180 Q680,160 750,130"/>
<path class="l" d="M260,85 Q350,90 420,105 L890,108"/>
<path class="b" d="M420,122 L745,130"/>
<path class="l" d="M745,130 L890,132"/>
<path class="l" d="M290,120 Q350,105 420,118"/>
<path class="l" d="M310,140 H640 M310,160 H620"/>
<path class="l" d="M395,10 C410,100 430,200 460,270 Q490,340 560,370 Q600,385 650,387 L929,387"/>
<path class="l" d="M500,320 Q560,355 650,362 L929,362"/>
<path class="l" d="M245,140 Q250,200 300,222 Q350,228 450,225 L929,225"/>
<path class="l" d="M200,110 Q220,60 290,20"/>
<path class="l" d="M200,110 Q175,200 180,300 L175,545"/>
<path class="l" d="M200,360 Q240,320 250,250 Q245,180 260,100"/>
<path class="l" d="M190,300 L200,545"/>
<path class="l" d="M300,415 L520,405 L535,440 L310,440 Z"/>
<path class="l" d="M270,265 L445,262 M270,265 Q250,330 258,410 Q270,460 310,468"/>
<path class="l" d="M290,270 Q297,350 280,400"/>
</g>
</g>
<rect class="l" x="729.5" y="388.6" width="28.3" height="8.1" rx="3.8"/>
<g transform="translate(628,400) scale(0.124486,0.124533)">
<path class="l" d="M215,185 Q300,140 400,133 L929,131"/>
<path class="l" d="M350,170 L929,163"/>
<path class="l" d="M320,190 Q330,160 350,155 L929,150"/>
<path class="l" d="M560,238 L929,238"/>
<path class="l" d="M385,355 L680,355 L710,372 L929,372"/>
<path class="w" d="M178,280 L178,450 Q180,495 220,498 L350,498 Q382,495 384,455 L384,285"/>
<path class="l" d="M178,0 V300"/>
<path class="l" d="M190,0 Q200,150 230,270 Q240,310 280,315 L330,310 L360,285 L384,285"/>
<path class="l" d="M215,185 L225,260 M310,190 Q300,250 320,270 L410,245 M250,290 L320,245 L400,225"/>
</g>
<g transform="translate(1487.3,0) scale(-1,1)"><g transform="translate(628,400) scale(0.124486,0.124533)">
<path class="l" d="M215,185 Q300,140 400,133 L929,131"/>
<path class="l" d="M350,170 L929,163"/>
<path class="l" d="M320,190 Q330,160 350,155 L929,150"/>
<path class="l" d="M560,238 L929,238"/>
<path class="l" d="M385,355 L680,355 L710,372 L929,372"/>
<path class="w" d="M178,280 L178,450 Q180,495 220,498 L350,498 Q382,495 384,455 L384,285"/>
<path class="l" d="M178,0 V300"/>
<path class="l" d="M190,0 Q200,150 230,270 Q240,310 280,315 L330,310 L360,285 L384,285"/>
<path class="l" d="M215,185 L225,260 M310,190 Q300,250 320,270 L410,245 M250,290 L320,245 L400,225"/>
</g>
</g>
<g transform="translate(628,400) scale(0.124486,0.124533)">
<path class="w" d="M415,247 A67,67 0 0 1 555,247 Z"/>
<path class="l" d="M428,245 A54,54 0 0 1 540,245"/>
<circle class="w" cx="482" cy="242" r="38"/>
</g>
<path class="l" d="M826,447.6 H831.5"/>
<g transform="translate(743.65,369.7) scale(5.2,5.2)"><circle r="1" fill="#2b2b2b"/><path d="M.06,-.06 L.06,-.64 A.6,.6 0 0 1 .64,-.06 Z M-.06,.06 L-.06,.64 A.6,.6 0 0 1 -.64,.06 Z" fill="#fff"/></g>
</g>
</g>
</svg>
</body></html>
